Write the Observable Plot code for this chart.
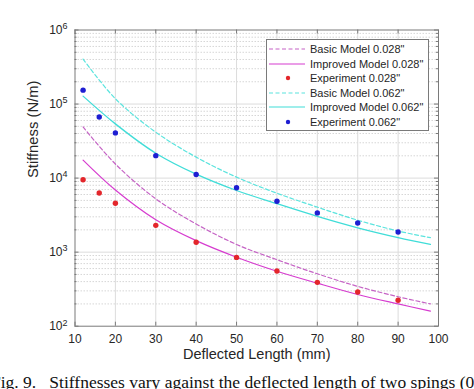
<!DOCTYPE html>
<html><head><meta charset="utf-8">
<script src="https://cdn.jsdelivr.net/npm/d3@7"></script>
<script src="https://cdn.jsdelivr.net/npm/@observablehq/plot@0.6"></script>
<style>
body{margin:0;background:#fff;overflow:hidden;}
#wrap{position:relative;width:474px;height:389px;overflow:hidden;font-family:"Liberation Sans",Arial,sans-serif;background:#fff;}
#legend{position:absolute;left:266px;top:39px;width:163px;height:92px;box-sizing:border-box;border:1px solid #7a7a7a;background:#fff;}
.row{position:absolute;left:0;height:14px;display:flex;align-items:center;font-size:11px;color:#262626;white-space:nowrap;}
.row svg{display:block;}
#caption{position:absolute;left:-9px;top:372px;font-family:"Liberation Serif","Times New Roman",serif;font-size:17.5px;white-space:pre;color:#111;}
</style></head><body>
<div id="wrap"><div id="chart"></div><div id="legend"></div><div id="caption"></div></div>
<script>
// ---- data ----
const xTicks = [10, 20, 30, 40, 50, 60, 70, 80, 90, 100];
const yDecades = [1e2, 1e3, 1e4, 1e5, 1e6];
const xExp = [12, 16, 20, 30, 40, 50, 60, 70, 80, 90];
const exp028 = [9500, 6300, 4570, 2300, 1360, 850, 557, 391, 290, 224];
const exp062 = [154000, 67000, 40800, 20100, 11200, 7400, 4860, 3390, 2480, 1870];
const xModel = [12, 20, 30, 40, 50, 60, 70, 80, 90, 98];
const basic028 = [49000, 15500, 5250, 2400, 1270, 790, 510, 345, 250, 200];
const improved028 = [17500, 6900, 2740, 1430, 855, 553, 381, 268, 200, 160];
const basic062 = [405000, 118000, 41700, 19200, 10300, 6250, 4050, 2700, 1930, 1570];
const improved062 = [128000, 54000, 21700, 11300, 6800, 4510, 3040, 2130, 1570, 1270];
const legendLabels = ['Basic Model 0.028"', 'Improved Model 0.028"', 'Experiment 0.028"',
                      'Basic Model 0.062"', 'Improved Model 0.062"', 'Experiment 0.062"'];
const xLabel = "Deflected Length (mm)";
const yLabel = "Stiffness (N/m)";
const captionText = 'Fig. 9.   Stiffnesses vary against the deflected length of two spings (0.028" and 0.062").';

// ---- styles ----
const col = {
  basic028: "#c563c5", improved028: "#d63ccf", exp028: "#e3262b",
  basic062: "#5be4de", improved062: "#40ddd8", exp062: "#1e1ed2"
};
const dash = "4,2.5";

const W = 474, H = 389, mL = 74.5, mR = 36, mT = 29.5, mB = 63.3;
const pw = W - mL - mR, ph = H - mT - mB;

const minor = [];
for (const d of yDecades.slice(0, -1)) for (let k = 2; k <= 9; k++) minor.push(d * k);

const toRows = (xs, ys) => xs.map((x, i) => ({x, k: ys[i]}));
const axisCol = "#7a7a7a";

const chart = Plot.plot({
  width: W, height: H,
  marginLeft: mL, marginRight: mR, marginTop: mT, marginBottom: mB,
  style: {fontFamily: "Liberation Sans, Arial, sans-serif", fontSize: "12px", color: "#262626", background: "#fff"},
  x: {domain: [10, 100]},
  y: {type: "log", domain: [1e2, 1e6]},
  marks: [
    Plot.ruleY(minor, {y: d => d, stroke: "#d6d6d6", strokeDasharray: "1.5,1.5"}),
    Plot.ruleY(yDecades.slice(1, -1), {y: d => d, stroke: "#dcdcdc"}),
    Plot.ruleX(xTicks.slice(1, -1), {x: d => d, stroke: "#dcdcdc"}),
    Plot.line(toRows(xModel, basic028), {x: "x", y: "k", stroke: col.basic028, strokeWidth: 1.2, strokeDasharray: dash, curve: "catmull-rom"}),
    Plot.line(toRows(xModel, improved028), {x: "x", y: "k", stroke: col.improved028, strokeWidth: 1.2, curve: "catmull-rom"}),
    Plot.line(toRows(xModel, basic062), {x: "x", y: "k", stroke: col.basic062, strokeWidth: 1.2, strokeDasharray: dash, curve: "catmull-rom"}),
    Plot.line(toRows(xModel, improved062), {x: "x", y: "k", stroke: col.improved062, strokeWidth: 1.3, curve: "catmull-rom"}),
    Plot.dot(toRows(xExp, exp028), {x: "x", y: "k", r: 2.7, fill: col.exp028}),
    Plot.dot(toRows(xExp, exp062), {x: "x", y: "k", r: 2.7, fill: col.exp062}),
    Plot.frame({stroke: axisCol}),
    Plot.tickX(xTicks, {x: d => d, insetTop: ph - 4, stroke: axisCol}),
    Plot.tickX(xTicks, {x: d => d, insetBottom: ph - 4, stroke: axisCol}),
    Plot.tickY(yDecades, {y: d => d, insetRight: pw - 4, stroke: axisCol}),
    Plot.tickY(yDecades, {y: d => d, insetLeft: pw - 4, stroke: axisCol}),
    Plot.tickY(minor, {y: d => d, insetRight: pw - 2, stroke: axisCol}),
    Plot.tickY(minor, {y: d => d, insetLeft: pw - 2, stroke: axisCol}),
    Plot.axisX({ticks: xTicks, tickSize: 0, tickPadding: 8, fontSize: 12, label: null}),
    Plot.axisY({ticks: yDecades, tickSize: 0, tickPadding: 7.5, fontSize: 12, label: null,
                tickFormat: d => "10^" + Math.round(Math.log10(d))}),
    Plot.text([xLabel], {text: d => d, frameAnchor: "bottom", dy: 33, fontSize: 14.5, fill: "#262626"}),
    Plot.text([yLabel], {text: d => d, frameAnchor: "left", rotate: -90, dx: -42, fontSize: 14.8, fill: "#262626"})
  ]
});
document.getElementById("chart").appendChild(chart);

// superscript exponents for y tick labels
chart.querySelectorAll('g[aria-label="y-axis tick label"] text').forEach(t => {
  const s = t.textContent;
  const m = s.match(/^10\^(\d+)$/);
  if (!m) return;
  t.textContent = "10";
  const ts = document.createElementNS("http://www.w3.org/2000/svg", "tspan");
  ts.setAttribute("dy", "-0.5em");
  ts.setAttribute("font-size", "9px");
  ts.textContent = m[1];
  t.appendChild(ts);
});

// legend
const legendKinds = [
  {type: "line", color: col.basic028, dash: true},
  {type: "line", color: col.improved028, dash: false},
  {type: "dot", color: col.exp028},
  {type: "line", color: col.basic062, dash: true},
  {type: "line", color: col.improved062, dash: false},
  {type: "dot", color: col.exp062}
];
const legend = document.getElementById("legend");
legendLabels.forEach((lab, i) => {
  const k = legendKinds[i];
  const row = document.createElement("div");
  row.className = "row";
  row.style.top = (10 + 14.6 * i - 7 - 1) + "px";
  const sample = k.type === "line"
    ? `<line x1="2" x2="38" y1="7" y2="7" stroke="${k.color}" stroke-width="1.2" ${k.dash ? `stroke-dasharray="${dash}"` : ""}/>`
    : `<circle cx="21" cy="7" r="2.2" fill="${k.color}"/>`;
  row.innerHTML = `<svg width="43" height="14">${sample}</svg><span>${lab}</span>`;
  legend.appendChild(row);
});

document.getElementById("caption").textContent = captionText;
</script></body></html>
